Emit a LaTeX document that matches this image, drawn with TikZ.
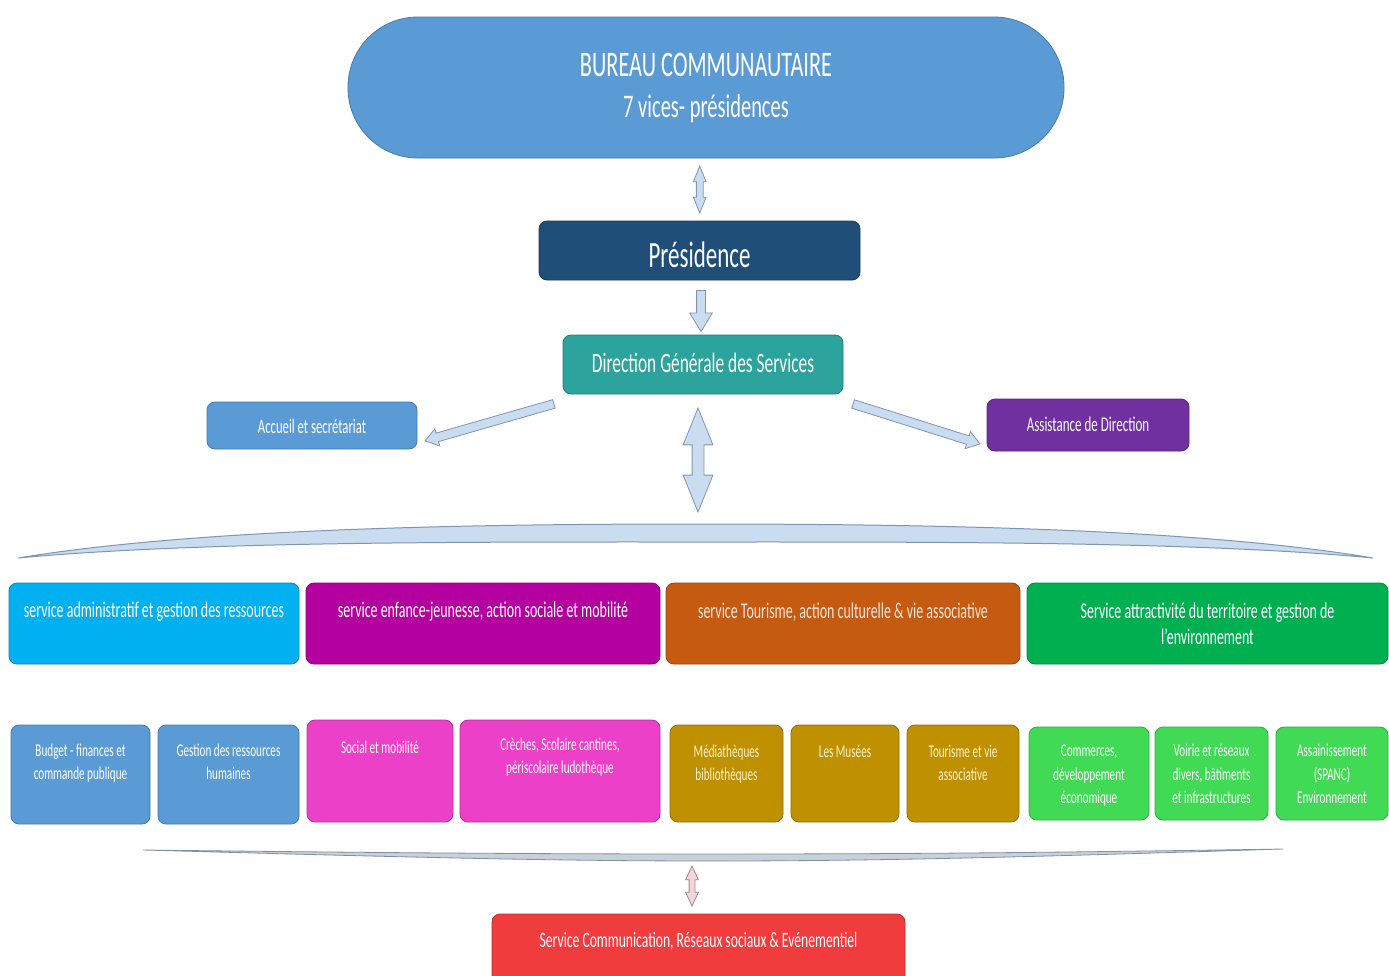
\documentclass[tikz,border=0pt]{standalone}
\usepackage{fontspec}
\setmainfont{Carlito}[FakeStretch=0.62]
\usetikzlibrary{shapes.arrows,calc}
\definecolor{bureau}{HTML}{5B9BD5}
\definecolor{pres}{HTML}{1F4E79}
\definecolor{dgs}{HTML}{2CA39C}
\definecolor{assist}{HTML}{7030A0}
\definecolor{hcyan}{HTML}{00B0F0}
\definecolor{hmag}{HTML}{B4009E}
\definecolor{horange}{HTML}{C55A11}
\definecolor{hgreen}{HTML}{00B050}
\definecolor{pinkbox}{HTML}{EC40C8}
\definecolor{goldbox}{HTML}{BF9000}
\definecolor{lgreen}{HTML}{40DA55}
\definecolor{redbox}{HTML}{F03C3C}
\definecolor{arrfill}{HTML}{C9DCF0}
\definecolor{arrline}{HTML}{7F96B2}
\definecolor{greyfill}{HTML}{C8D0DA}
\definecolor{greyline}{HTML}{7F8FA6}
\definecolor{pinkarr}{HTML}{F4D5DC}
\definecolor{pinkarrline}{HTML}{9A8A90}
\definecolor{paleyellow}{HTML}{FFF2CC}
\definecolor{palepeach}{HTML}{FCE4D6}
\newcommand{\tb}[4]{\parbox[c][#2pt][t]{#1pt}{\centering\vspace*{#3pt}\strut#4\par}}
\tikzset{
  box/.style={rounded corners=8pt, draw=#1!78!black, fill=#1, line width=0.8pt, inner sep=0pt, outer sep=0pt, text=white},
  hfont/.style={font=\fontsize{22.5}{27}\selectfont},
  bfont/.style={font=\fontsize{18}{22.5}\selectfont},
  gfont/.style={font=\fontsize{18}{23.5}\selectfont},
  darrow/.style={double arrow, draw=arrline, fill=arrfill, line width=0.8pt, inner xsep=0pt, minimum width=0pt, double arrow head indent=0pt},
  sarrow/.style={single arrow, draw=arrline, fill=arrfill, line width=0.8pt, inner xsep=0pt, minimum width=0pt, single arrow head indent=0pt},
}
\begin{document}
\begin{tikzpicture}[x=1pt,y=-1pt]
\useasboundingbox[fill=white] (0,0) rectangle (1389,975);
\clip (0,0) rectangle (1389,975);

% top
\node[box=bureau, rounded corners=70pt, font=\fontsize{36}{41}\selectfont] (bureau) at (706,87.5)
  {\tb{716}{141}{31}{BUREAU COMMUNAUTAIRE\\{\fontsize{33}{41}\selectfont 7 vices- présidences}}};
\node[box=pres, font=\fontsize{37}{44}\selectfont] (pres) at (699.5,250.5) {\tb{321}{59}{16}{Présidence}};
\node[box=dgs, font=\fontsize{28}{34}\selectfont] (dgs) at (703,364.5) {\tb{280}{59}{14}{Direction Générale des Services}};
\node[box=bureau, font=\fontsize{20.5}{25}\selectfont] (accueil) at (312,425.5) {\tb{210}{47}{13.5}{Accueil et secrétariat}};
\node[box=assist, font=\fontsize{21}{25}\selectfont] (assist) at (1088,425) {\tb{202}{52}{14.5}{Assistance de Direction}};

% arrows
\node[darrow, rotate=90, minimum height=47pt, inner ysep=3pt, double arrow head extend=3pt, double arrow tip angle=44] (a1) at ($(bureau.south)!0.5!(pres.north)+(-3,0)$) {};
\node[sarrow, rotate=-90, minimum height=41pt, inner ysep=4pt, single arrow head extend=7pt, single arrow tip angle=63] (a2) at (701,307.5) {};
\node[sarrow, rotate=196, minimum height=134pt, inner ysep=4pt, single arrow head extend=4.5pt, single arrow tip angle=70] (a3) at (492.5,421.5) {};
\node[sarrow, rotate=-17.5, minimum height=133pt, inner ysep=4pt, single arrow head extend=4.5pt, single arrow tip angle=70] (a4) at (913.5,423) {};
\node[darrow, rotate=90, minimum height=104pt, inner ysep=5.5pt, double arrow head extend=9pt, double arrow tip angle=44] (a5) at (698,460) {};

% banner
\draw[fill=arrfill, draw=arrline, line width=1pt] (18,558) .. controls (200,528) and (480,524) .. (698,524) .. controls (916,524) and (1196,528) .. (1373,558) .. controls (1196,541) and (916,542) .. (698,542) .. controls (480,542) and (200,541) .. (18,558) -- cycle;

% headers
\node[box=hcyan, hfont] (h1) at (154,623.5) {\tb{290}{81}{16}{service administratif et gestion des ressources}};
\node[box=hmag, hfont] (h2) at (483,623.5) {\tb{354}{81}{16}{service enfance-jeunesse, action sociale et mobilité}};
\node[box=horange, hfont, text=palepeach] (h3) at (843,623.5) {\tb{354}{81}{17}{service Tourisme, action culturelle \& vie associative}};
\node[box=hgreen, font=\fontsize{22.5}{26}\selectfont] (h4) at (1207.5,623.5) {\tb{361}{81}{17}{Service attractivité du territoire et gestion de\\l'environnement}};

% bottom row
\node[box=bureau, bfont] (b1) at (80.5,774.5) {\tb{139}{99}{16}{Budget - finances et\\commande publique}};
\node[box=bureau, bfont] (b2) at (228.5,774.5) {\tb{141}{99}{16}{Gestion des ressources\\humaines}};
\node[box=pinkbox, bfont] (b3) at (380,771) {\tb{146}{102}{18}{Social et mobilité}};
\node[box=pinkbox, bfont] (b4) at (560,771) {\tb{200}{102}{15}{Crèches, Scolaire cantines,\\périscolaire ludothèque}};
\node[box=goldbox, bfont, text=paleyellow] (b5) at (726.5,773.5) {\tb{113}{97}{17}{Médiathèques\\bibliothèques}};
\node[box=goldbox, bfont, text=paleyellow] (b6) at (845,773.5) {\tb{108}{97}{17}{Les Musées}};
\node[box=goldbox, bfont, text=paleyellow] (b7) at (963,773.5) {\tb{112}{97}{17}{Tourisme et vie\\associative}};
\node[box=lgreen, gfont] (b8) at (1089,773.5) {\tb{120}{93}{13.5}{Commerces,\\développement\\économique}};
\node[box=lgreen, gfont] (b9) at (1211.5,773.5) {\tb{113}{93}{13.5}{Voirie et réseaux\\divers, bâtiments\\et infrastructures}};
\node[box=lgreen, gfont] (b10) at (1332,773.5) {\tb{112}{93}{13.5}{Assainissement\\(SPANC)\\Environnement}};

% grey band
\draw[fill=greyfill, draw=greyline, line width=0.8pt] (143,850) .. controls (400,853) and (550,854) .. (712,854) .. controls (880,854) and (1030,853) .. (1283,849) .. controls (1030,857) and (880,861) .. (712,861) .. controls (550,861) and (400,857) .. (143,850) -- cycle;

% communication
\node[box=redbox, font=\fontsize{22}{27}\selectfont] (com) at (698.5,952) {\tb{413}{76}{15}{Service Communication, Réseaux sociaux \& Evénementiel}};
\node[darrow, draw=pinkarrline, fill=pinkarr, rotate=90, minimum height=40pt, inner ysep=2.5pt, double arrow head extend=3.5pt, double arrow tip angle=50] (a6) at (692,886) {};
\end{tikzpicture}
\end{document}
